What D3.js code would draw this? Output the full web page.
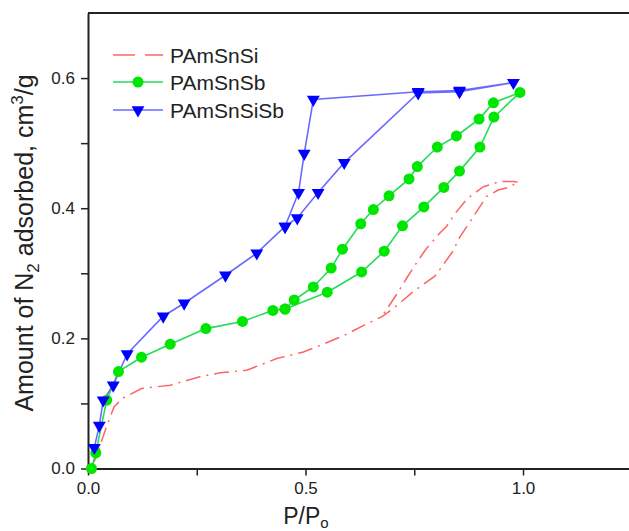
<!DOCTYPE html>
<html>
<head>
<meta charset="utf-8">
<script src="https://cdn.jsdelivr.net/npm/d3@7/dist/d3.min.js"></script>
<style>
  html, body { margin: 0; padding: 0; background: #fff; }
  svg { display: block; font-family: "Liberation Sans", Arial, sans-serif; }
</style>
</head>
<body>
<svg id="chart" width="629" height="531"></svg>
<script>
// ---- data (x = P/Po, y = amount adsorbed, cm3/g) ----
const seriesNames = ["PAmSnSi", "PAmSnSb", "PAmSnSiSb"];

const siX = [0.005, 0.016, 0.03, 0.043, 0.06, 0.08, 0.123, 0.189, 0.257, 0.303, 0.365, 0.434, 0.495, 0.537, 0.587, 0.640, 0.675, 0.702, 0.748, 0.798, 0.838, 0.855, 0.882, 0.916, 0.943, 0.962, 0.99,
             0.978, 0.947, 0.909, 0.882, 0.870, 0.844, 0.824, 0.809, 0.778, 0.759, 0.732, 0.709, 0.675];
const siY = [0.0, 0.013, 0.04, 0.065, 0.095, 0.108, 0.123, 0.128, 0.141, 0.147, 0.151, 0.169, 0.179, 0.190, 0.204, 0.222, 0.233, 0.246, 0.272, 0.296, 0.333, 0.356, 0.383, 0.418, 0.428, 0.431, 0.440,
             0.441, 0.441, 0.433, 0.420, 0.413, 0.392, 0.372, 0.362, 0.338, 0.320, 0.292, 0.267, 0.233];

const sbX = [0.008, 0.018, 0.043, 0.070, 0.123, 0.189, 0.271, 0.355, 0.425, 0.453, 0.550, 0.629, 0.681, 0.723, 0.772, 0.818, 0.854, 0.901, 0.933, 0.993,
             0.932, 0.899, 0.847, 0.803, 0.757, 0.738, 0.692, 0.656, 0.627, 0.585, 0.559, 0.518, 0.474, 0.453];
const sbY = [0.0, 0.024, 0.105, 0.149, 0.171, 0.191, 0.215, 0.226, 0.243, 0.245, 0.271, 0.302, 0.334, 0.373, 0.402, 0.432, 0.457, 0.494, 0.540, 0.578,
             0.562, 0.537, 0.511, 0.494, 0.464, 0.445, 0.419, 0.398, 0.376, 0.337, 0.308, 0.279, 0.259, 0.245];

const sisbX = [0.0145, 0.026, 0.035, 0.058, 0.090, 0.173, 0.221, 0.316, 0.388, 0.453, 0.481, 0.529, 0.589, 0.759, 0.854, 0.978,
               0.854, 0.759, 0.518, 0.497, 0.484, 0.453];
const sisbY = [0.032, 0.066, 0.105, 0.128, 0.176, 0.234, 0.254, 0.297, 0.331, 0.372, 0.385, 0.424, 0.470, 0.577, 0.579, 0.593,
               0.581, 0.579, 0.567, 0.484, 0.424, 0.372];

const xTicks = [0.0, 0.5, 1.0];
const xMinor = [0.25, 0.75];
const yTicks = [0.0, 0.2, 0.4, 0.6];
const yMinor = [0.1, 0.3, 0.5];

// ---- layout ----
const svg = d3.select("#chart");
const L = 88, T = 13, B = 468.5;
const x = d3.scaleLinear().domain([0, 1.25]).range([L, L + 1.25 * 435]);
const y = d3.scaleLinear().domain([0, 0.7]).range([B, T]);

const colors = { si: "#ff6464", sbLine: "#22dd55", sbFill: "#00e600", sisbLine: "#6a6aff", sisbFill: "#0000ff" };

// axes
const fmt = d3.format(".1f");
const xAxis = d3.axisBottom(x).tickValues(xTicks).tickFormat(fmt).tickSize(7).tickPadding(6).tickSizeOuter(0);
const yAxis = d3.axisLeft(y).tickValues(yTicks).tickFormat(fmt).tickSize(7).tickPadding(6).tickSizeOuter(0);

svg.append("g").attr("transform", `translate(0,${B})`).call(xAxis);
svg.append("g").attr("transform", `translate(${L},0)`).call(yAxis);
svg.append("g").attr("transform", `translate(0,${B})`)
  .call(d3.axisBottom(x).tickValues(xMinor).tickFormat("").tickSize(7).tickSizeOuter(0))
  .select(".domain").remove();
svg.append("g").attr("transform", `translate(${L},0)`)
  .call(d3.axisLeft(y).tickValues(yMinor).tickFormat("").tickSize(7).tickSizeOuter(0))
  .select(".domain").remove();

svg.selectAll(".tick line").attr("stroke", "#222").attr("stroke-width", 1.5);
svg.selectAll(".domain").attr("stroke", "#222").attr("stroke-width", 2);
svg.selectAll(".tick text").attr("font-size", 17).attr("fill", "#222")
  .attr("font-family", "'Liberation Sans', Arial, sans-serif");

// top frame line
svg.append("line").attr("x1", L).attr("x2", 629).attr("y1", T).attr("y2", T)
  .attr("stroke", "#222").attr("stroke-width", 2);

// axis titles
const xt = svg.append("text").attr("x", 306).attr("y", 524).attr("text-anchor", "middle")
  .attr("font-size", 23).attr("fill", "#222");
xt.append("tspan").text("P/P");
xt.append("tspan").attr("dy", 4).attr("font-size", 15).text("o");

const yt = svg.append("text").attr("transform", "translate(33,243) rotate(-90)")
  .attr("text-anchor", "middle").attr("font-size", 25).attr("fill", "#222");
yt.append("tspan").text("Amount of N");
yt.append("tspan").attr("dy", 6).attr("font-size", 17).text("2");
yt.append("tspan").attr("dy", -6).text(" adsorbed, cm");
yt.append("tspan").attr("dy", -10).attr("font-size", 17).text("3");
yt.append("tspan").attr("dy", 10).text("/g");

// lines
const line = d3.line().x(d => x(d[0])).y(d => y(d[1]));
const siData = siX.map((v, i) => [v, siY[i]]);
const sbData = sbX.map((v, i) => [v, sbY[i]]);
const sisbData = sisbX.map((v, i) => [v, sisbY[i]]);

svg.append("path").datum(siData).attr("d", line).attr("fill", "none")
  .attr("stroke", colors.si).attr("stroke-width", 1.5).attr("stroke-dasharray", "15,6,2,6");

svg.append("path").datum(sbData).attr("d", line).attr("fill", "none")
  .attr("stroke", colors.sbLine).attr("stroke-width", 1.6);
svg.append("path").datum(sisbData).attr("d", line).attr("fill", "none")
  .attr("stroke", colors.sisbLine).attr("stroke-width", 1.6);

svg.append("g").selectAll("circle").data(sbData).join("circle")
  .attr("cx", d => x(d[0])).attr("cy", d => y(d[1])).attr("r", 5.5)
  .attr("fill", colors.sbFill);

const tri = d3.symbol().type(d3.symbolTriangle).size(72);
svg.append("g").selectAll("path").data(sisbData).join("path")
  .attr("d", tri).attr("transform", d => `translate(${x(d[0])},${y(d[1])}) rotate(180)`)
  .attr("fill", colors.sisbFill);

// legend
const leg = svg.append("g");
const rows = [55, 82, 110];
leg.append("line").attr("x1", 113).attr("x2", 163).attr("y1", rows[0]).attr("y2", rows[0])
  .attr("stroke", colors.si).attr("stroke-width", 1.5).attr("stroke-dasharray", "22,10");
leg.append("line").attr("x1", 113).attr("x2", 163).attr("y1", rows[1]).attr("y2", rows[1])
  .attr("stroke", colors.sbLine).attr("stroke-width", 1.6);
leg.append("circle").attr("cx", 138).attr("cy", rows[1]).attr("r", 5.5).attr("fill", colors.sbFill);
leg.append("line").attr("x1", 113).attr("x2", 163).attr("y1", rows[2]).attr("y2", rows[2])
  .attr("stroke", colors.sisbLine).attr("stroke-width", 1.6);
leg.append("path").attr("d", tri).attr("transform", `translate(138,${rows[2]}) rotate(180)`)
  .attr("fill", colors.sisbFill);
seriesNames.forEach((n, i) => {
  leg.append("text").attr("x", 170).attr("y", rows[i] + 7.5).attr("font-size", 21)
    .attr("fill", "#222").text(n);
});
</script>
</body>
</html>
